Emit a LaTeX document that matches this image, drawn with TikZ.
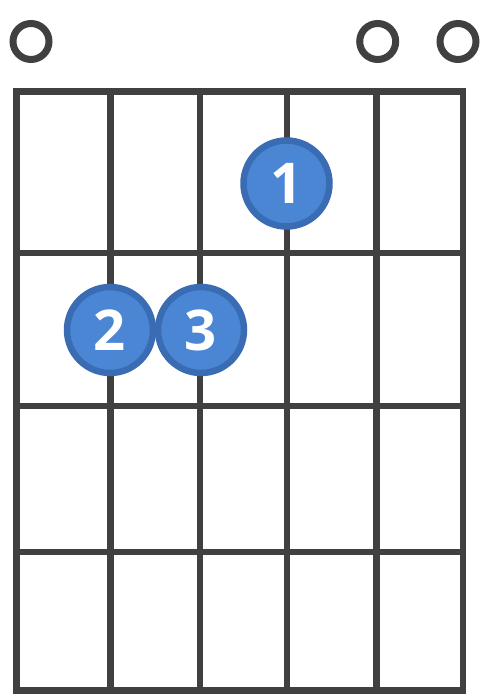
\documentclass[tikz,border=0pt]{standalone}
\usepackage{fontspec}
\setsansfont{Open Sans}
\usepackage{tikz}
\definecolor{gridgray}{RGB}{64,64,64}
\definecolor{dotfill}{RGB}{74,134,212}
\definecolor{dotrim}{RGB}{58,108,180}

\begin{document}
\begin{tikzpicture}[x=0.02cm, y=-0.02cm,
  fretline/.style={draw=gridgray, line width=0.134cm, line cap=rect},
  openstring/.style={circle, draw=gridgray, line width=0.14cm, minimum size=0.72cm, inner sep=0pt},
  fingerdot/.style={circle, draw=dotrim, fill=dotfill, line width=0.13cm, minimum size=1.72cm, inner sep=0pt,
    text=white, font=\sffamily\bfseries\fontsize{32}{32}\selectfont}]
\useasboundingbox (0,0) rectangle (494,695);

% strings
\draw [fretline] (16.5,91.7)--(16.5,690.5) (110.5,91.7)--(110.5,690.5) (200,91.7)--(200,690.5);
\draw [fretline] (287,91.7)--(287,690.5) (376.5,91.7)--(376.5,690.5) (463,91.7)--(463,690.5);

% frets
\draw [fretline] (16.5,91.7)--(463,91.7) (16.5,253)--(463,253) (16.5,406)--(463,406);
\draw [fretline] (16.5,552)--(463,552) (16.5,690.5)--(463,690.5);

% open strings
\node [openstring] (o1) at (31,41.5) {};
\node [openstring] (o5) at (377.7,41.5) {};
\node [openstring] (o6) at (458,41.5) {};

% fingers
\node [fingerdot] (f1) at (286.5,183.5) {1};
\node [fingerdot] (f2) at (110,330) {2};
\node [fingerdot] (f3) at (201,330) {3};
\end{tikzpicture}
\end{document}
